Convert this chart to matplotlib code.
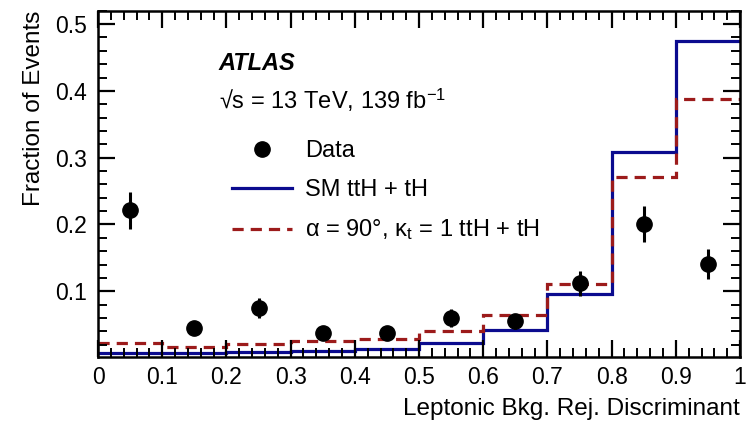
import numpy as np
import matplotlib
matplotlib.use('Agg')
import matplotlib.pyplot as plt
from matplotlib.lines import Line2D
from matplotlib.ticker import MultipleLocator

plt.rcParams['font.family'] = ['Liberation Sans', 'DejaVu Sans']
plt.rcParams['mathtext.fontset'] = 'stix'

# bins of the discriminant
edges = np.linspace(0, 1, 11)
centers = 0.5 * (edges[:-1] + edges[1:])

# fraction of events per bin
data = [0.221, 0.045, 0.075, 0.038, 0.038, 0.060, 0.055, 0.112, 0.200, 0.141]
data_err = [0.028, 0.008, 0.015, 0.008, 0.008, 0.014, 0.011, 0.019, 0.027, 0.022]
sm = [0.008, 0.008, 0.009, 0.0105, 0.014, 0.023, 0.0415, 0.0965, 0.309, 0.474]
cp_odd = [0.023, 0.0165, 0.0205, 0.0255, 0.028, 0.040, 0.065, 0.1115, 0.2715, 0.3875]

blue = '#0b0b8f'
red = '#9c1b1b'
fs = 17

fig = plt.figure(figsize=(7.5, 4.3), dpi=100)
ax = fig.add_axes([0.1307, 0.1705, 0.856, 0.8045])

ax.stairs(sm, edges, color=blue, lw=2.3, baseline=None)
ax.stairs(cp_odd, edges, color=red, lw=2.3, ls=(0, (3.5, 2.2)), baseline=None)
ax.errorbar(centers, data, yerr=data_err, fmt='o', color='black', ms=11,
            elinewidth=2.2, capsize=0, zorder=5)

ax.set_xlim(0, 1)
ax.set_ylim(0.002, 0.52)
ax.xaxis.set_minor_locator(MultipleLocator(0.02))
ax.yaxis.set_minor_locator(MultipleLocator(0.02))
ax.set_xticks(np.arange(0, 1.01, 0.1))
ax.set_xticklabels(['0', '0.1', '0.2', '0.3', '0.4', '0.5', '0.6', '0.7', '0.8', '0.9', '1'])
ax.set_yticks([0.1, 0.2, 0.3, 0.4, 0.5])
ax.set_yticklabels(['0.1', '0.2', '0.3', '0.4', '0.5'])
ax.tick_params(which='both', direction='in', top=True, right=True, labelsize=16.5)
ax.tick_params(which='major', length=12, width=1.6)
ax.tick_params(which='minor', length=6.5, width=1.4)
ax.tick_params(axis='x', pad=7)
ax.tick_params(axis='y', pad=8)
for s in ax.spines.values():
    s.set_linewidth(1.8)

ax.set_xlabel('Leptonic Bkg. Rej. Discriminant', fontsize=17.5, loc='right', labelpad=6)
ax.set_ylabel('Fraction of Events', fontsize=17.5, loc='top', labelpad=7)

ax.text(0.188, 0.848, 'ATLAS', transform=ax.transAxes, fontsize=fs,
        fontweight='bold', fontstyle='italic', va='center')
ax.text(0.188, 0.741, '√s = 13 TeV, 139 fb$^{\\mathregular{-1}}$',
        transform=ax.transAxes, fontsize=17, va='center')

handles = [
    Line2D([], [], marker='o', ls='none', color='black', ms=11),
    Line2D([], [], color=blue, lw=2.3),
    Line2D([], [], color=red, lw=2.3, ls=(0, (3.5, 2.2))),
]
labels = ['Data', 'SM ttH + tH', 'α = 90°, κ$_{\\mathregular{t}}$ = 1 ttH + tH']
ax.legend(handles, labels, loc='upper left', bbox_to_anchor=(0.209, 0.627),
          frameon=False, fontsize=fs, handlelength=2.55, handletextpad=0.55,
          labelspacing=0.72, borderaxespad=0, borderpad=0)

fig.savefig('out.png', dpi=100)
